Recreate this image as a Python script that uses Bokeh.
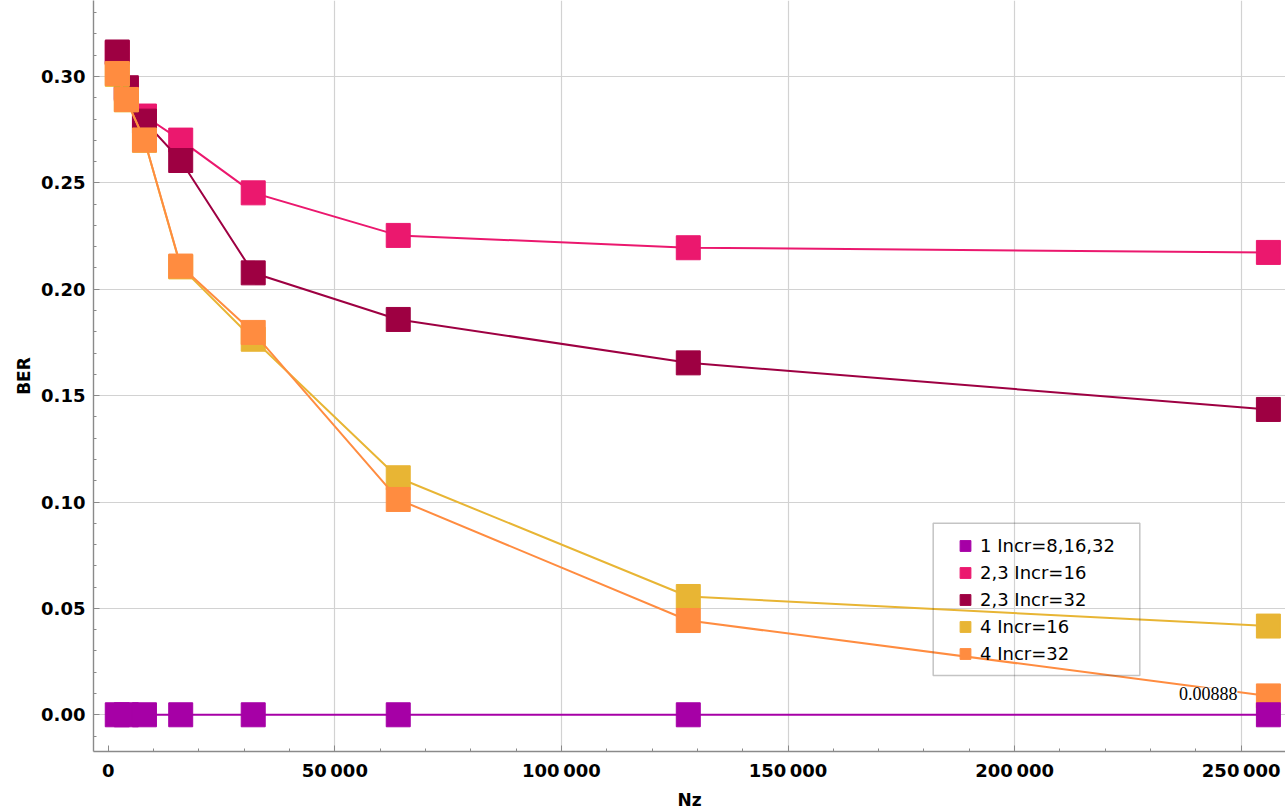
from bokeh.plotting import figure
from bokeh.models import Range1d, FixedTicker, Legend, LegendItem, BoxAnnotation, Label
from bokeh.embed import file_html
from bokeh.resources import INLINE

# ---- data ----
nz = [2000, 4000, 8000, 16000, 32000, 64000, 128000, 256000]
ber_1_incr_all = [0.0, 0.0, 0.0, 0.0, 0.0, 0.0, 0.0, 0.0]
ber_23_incr16 = [0.311, 0.294, 0.2814, 0.2701, 0.2453, 0.2253, 0.2195, 0.2173]
ber_23_incr32 = [0.3115, 0.2947, 0.2790, 0.2605, 0.2077, 0.1858, 0.1654, 0.1435]
ber_4_incr16 = [0.301, 0.289, 0.270, 0.2105, 0.1765, 0.1114, 0.0556, 0.0417]
ber_4_incr32 = [0.3014, 0.2892, 0.2701, 0.2109, 0.1797, 0.1012, 0.0443, 0.00888]

series_names = ["1 Incr=8,16,32", "2,3 Incr=16", "2,3 Incr=32", "4 Incr=16", "4 Incr=32"]
series_colors = ["#A600A6", "#EB186E", "#9E0042", "#E8B534", "#FF8C40"]

x_ticks = [0, 50000, 100000, 150000, 200000, 250000]
x_tick_labels = ["0", "50\u2009000", "100\u2009000", "150\u2009000", "200\u2009000", "250\u2009000"]
y_ticks = [0, 0.05, 0.1, 0.15, 0.2, 0.25, 0.3]
y_tick_labels = ["0.00", "0.05", "0.10", "0.15", "0.20", "0.25", "0.30"]

callout_x = 256000
callout_y = 0.00888
callout_text = "0.00888"

# ---- figure ----
p = figure(width=1285, height=812, output_backend="svg", toolbar_location=None,
           x_range=Range1d(-3244, 259775), y_range=Range1d(-0.01725, 0.3357),
           min_border_left=93, min_border_right=0, min_border_top=0, min_border_bottom=61)
p.outline_line_color = None

# grid
p.xgrid.ticker = FixedTicker(ticks=[t for t in x_ticks if t != 0])
p.ygrid.ticker = FixedTicker(ticks=y_ticks)
for g in (p.xgrid[0], p.ygrid[0]):
    g.grid_line_color = "#d2d2d2"
    g.grid_line_width = 1.2

# axes
p.xaxis.ticker = FixedTicker(ticks=x_ticks, minor_ticks=[i * 10000 for i in range(0, 26)])
p.yaxis.ticker = FixedTicker(ticks=y_ticks, minor_ticks=[i / 100 for i in range(-1, 34)])
p.xaxis.major_label_overrides = {t: l for t, l in zip(x_ticks, x_tick_labels)}
p.yaxis.major_label_overrides = {t: l for t, l in zip(y_ticks, y_tick_labels)}
p.xaxis.axis_label = "Nz"
p.yaxis.axis_label = "BER"
for ax in (p.xaxis[0], p.yaxis[0]):
    ax.axis_line_color = "#8a8a8a"
    ax.axis_line_width = 1.4
    ax.major_tick_line_color = "#8a8a8a"
    ax.minor_tick_line_color = "#8a8a8a"
    ax.major_tick_in = 6
    ax.major_tick_out = 0
    ax.minor_tick_in = 3
    ax.minor_tick_out = 0
    ax.major_label_text_font = "DejaVu Sans"
    ax.major_label_text_font_style = "bold"
    ax.major_label_text_font_size = "18px"
    ax.major_label_text_color = "black"
    ax.major_label_standoff = 8
    ax.axis_label_text_font = "DejaVu Sans"
    ax.axis_label_text_font_style = "bold"
    ax.axis_label_text_font_size = "17px"
    ax.axis_label_text_color = "black"
p.xaxis.axis_label_standoff = 6
p.yaxis.axis_label_standoff = 4

# ---- series ----
all_series = [ber_1_incr_all, ber_23_incr16, ber_23_incr32, ber_4_incr16, ber_4_incr32]
draw_order = [1, 2, 3, 4, 0]
renderers = {}
for i in draw_order:
    p.line(nz, all_series[i], line_color=series_colors[i], line_width=2)
    renderers[i] = p.scatter(nz, all_series[i], marker="square", size=24,
                             fill_color=series_colors[i], line_color=series_colors[i],
                             line_width=1)

items = [LegendItem(label=series_names[i], renderers=[renderers[i]]) for i in range(5)]
legend = Legend(items=items, location=(858, 84.5), padding=0, margin=0, spacing=0,
                glyph_width=28, glyph_height=27, label_standoff=1,
                label_text_font="DejaVu Sans", label_text_font_size="18px",
                label_text_color="black",
                background_fill_alpha=0, border_line_color=None)
p.add_layout(legend)

legend_box = BoxAnnotation(left=182040, right=227630, bottom=0.0185, top=0.0900,
                           fill_alpha=0, fill_color=None,
                           line_color="#3a3a3a", line_width=1.5)
p.add_layout(legend_box)

callout = Label(x=callout_x, y=callout_y, text=callout_text, x_offset=-31, y_offset=2,
                text_align="right", text_baseline="middle",
                text_font="Liberation Serif", text_font_size="18px", text_color="black",
                background_fill_color="white")
p.add_layout(callout)

open("out.html", "w").write(file_html(p, INLINE))
